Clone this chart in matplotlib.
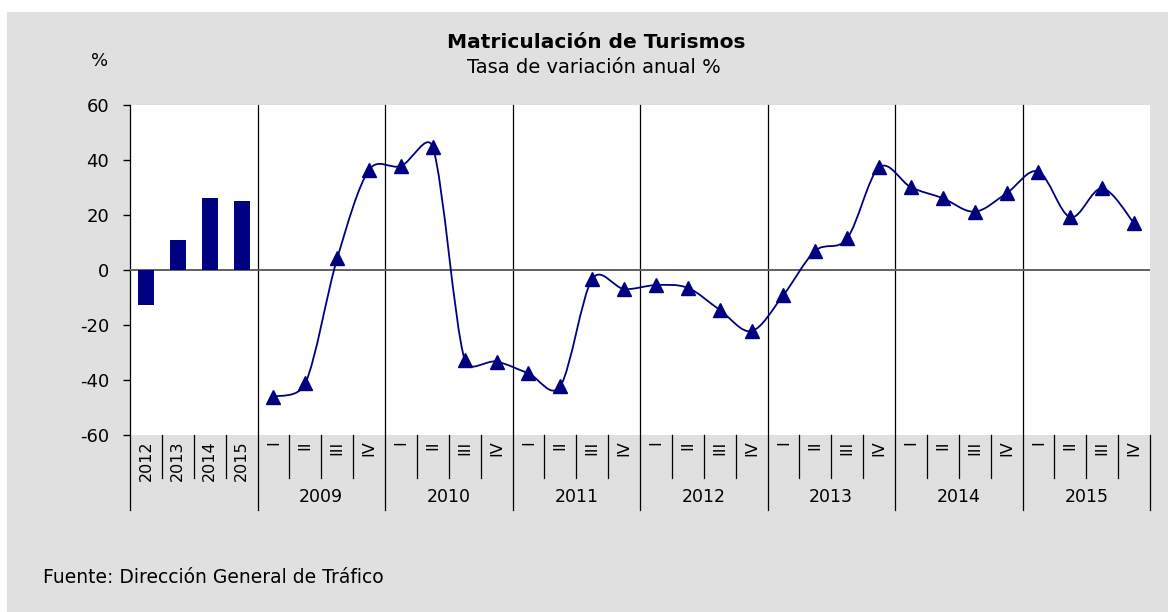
import matplotlib
matplotlib.use("Agg")
import matplotlib.pyplot as plt
from matplotlib.path import Path
from matplotlib.patches import PathPatch, Rectangle
import matplotlib.transforms as mtransforms
import numpy as np

# -----------------------------------------------------------------------------
# Data
# -----------------------------------------------------------------------------
annual_years  = ["2012", "2013", "2014", "2015"]
annual_values = [-12.7, 10.9, 26.1, 25.1]

quarter_years  = ["2009", "2010", "2011", "2012", "2013", "2014", "2015"]
quarter_labels = ["I", "II", "III", "IV"]
quarter_values = [
    -46.1, -41.2, 4.2, 36.4,      # 2009
    37.8, 44.6, -32.7, -33.3,     # 2010
    -37.6, -42.2, -3.3, -6.9,     # 2011
    -5.5, -6.5, -14.5, -22.2,     # 2012
    -9.1, 7.0, 11.5, 37.3,        # 2013
    30.1, 26.1, 21.2, 27.9,       # 2014
    35.8, 19.2, 29.7, 17.0,       # 2015
]

NAVY = "#000080"
BG = "#e0e0e0"

plt.rcParams["axes.unicode_minus"] = False
plt.rcParams["font.family"] = ["DejaVu Sans"]

W, H = 1168, 612
fig = plt.figure(figsize=(W / 100, H / 100), dpi=100, facecolor="white")
fig.patches.append(Rectangle((7 / W, 0), 1 - 7 / W, 1 - 12 / H,
                             transform=fig.transFigure, facecolor=BG,
                             edgecolor="none", zorder=-10))

ax = fig.add_axes([130 / W, 1 - 435 / H, 1020 / W, 330 / H])
ax.set_facecolor("white")
for s in ax.spines.values():
    s.set_visible(False)

n_ann = len(annual_values)
n_cat = n_ann + len(quarter_values)
ax.set_xlim(-0.5, n_cat - 0.5)
ax.set_ylim(-60, 60)

# bars for annual values
ax.bar(range(n_ann), annual_values, width=0.5, color=NAVY, zorder=3)


def smooth_path(ax, xs, ys):
    """Excel-like smoothed line: bezier segments, tangent (P2-P0)/6 with the
    arm capped at half the segment, done in display space."""
    pts = ax.transData.transform(np.column_stack([xs, ys]))
    n = len(pts)
    verts = [pts[0]]
    codes = [Path.MOVETO]

    def arm(vec, seg_len):
        ln = np.hypot(*vec)
        a = vec / 6
        if ln / 6 > seg_len / 2 and ln > 0:
            a = vec / ln * seg_len / 2
        return a

    for i in range(n - 1):
        p0, p1 = pts[max(i - 1, 0)], pts[i]
        p2, p3 = pts[i + 1], pts[min(i + 2, n - 1)]
        d12 = np.hypot(*(p2 - p1))
        c1 = p1 + arm(p2 - p0, d12)
        c2 = p2 - arm(p3 - p1, d12)
        verts += [c1, c2, p2]
        codes += [Path.CURVE4] * 3
    verts = ax.transData.inverted().transform(np.array(verts))
    return Path(verts, codes)


qx = list(range(n_ann, n_cat))
ax.add_patch(PathPatch(smooth_path(ax, qx, quarter_values), facecolor="none",
                       edgecolor=NAVY, linewidth=1.3, zorder=4))
ax.plot(qx, quarter_values, linestyle="none", marker="^", markersize=10,
        color=NAVY, zorder=5)

# zero line
ax.axhline(0, color="#606060", linewidth=1.4, zorder=2)

# y axis ticks
ax.set_yticks(range(-60, 61, 20))
ax.tick_params(axis="y", direction="out", length=5, width=1, pad=10,
               labelsize=13, color="black")

# x tick labels (rotated, like the original)
ax.set_xticks(range(n_cat))
ax.set_xticklabels(annual_years + quarter_labels * len(quarter_years),
                   rotation=90, fontsize=11.5)
ax.tick_params(axis="x", length=0, pad=4)

# category separators
trans = mtransforms.blended_transform_factory(ax.transData, ax.transAxes)
long_bot = (435 - 510) / 330
short_bot = (435 - 478) / 330
group_edges = [-0.5, n_ann - 0.5] + [n_ann - 0.5 + 4 * (k + 1) for k in range(len(quarter_years) - 1)]
for xe in group_edges:
    ax.plot([xe, xe], [long_bot, 1], color="black", linewidth=0.9,
            transform=trans, clip_on=False, zorder=1)
ax.plot([n_cat - 0.5] * 2, [long_bot, 0], color="black", linewidth=0.9,
        transform=trans, clip_on=False)
for k in range(n_cat - 1):
    xe = k + 0.5
    if xe in group_edges:
        continue
    ax.plot([xe, xe], [short_bot, 0], color="black", linewidth=0.9,
            transform=trans, clip_on=False)

# year labels under quarter groups
for k, yr in enumerate(quarter_years):
    ax.text(n_ann + 4 * k + 1.5, (435 - 497) / 330, yr, transform=trans,
            ha="center", va="center", fontsize=12.5)

# texts
fig.text(596 / W, 1 - 48 / H, "Matriculación de Turismos", ha="center",
         va="baseline", fontsize=14.5, fontweight="bold")
fig.text(594 / W, 1 - 73 / H, "Tasa de variación anual %", ha="center",
         va="baseline", fontsize=14)
fig.text(108 / W, 1 - 61 / H, "%", ha="right", va="center", fontsize=13)
fig.text(43 / W, 1 - 583 / H, "Fuente: Dirección General de Tráfico",
         ha="left", va="baseline", fontsize=13.5)

fig.savefig("out.png", dpi=100, facecolor=fig.get_facecolor())
